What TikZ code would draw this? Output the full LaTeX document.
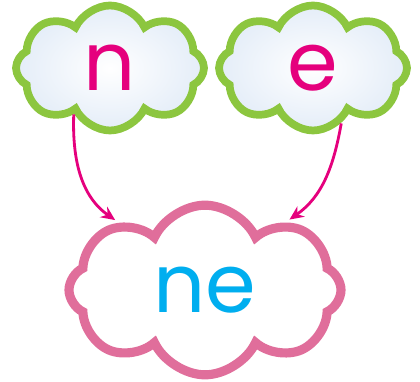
\documentclass[tikz,border=0pt]{standalone}
\usepackage{fontspec}
\setmainfont{Poppins}
\usepackage{xcolor}
\usepackage{tikz}
\usetikzlibrary{shapes.symbols, arrows.meta, positioning, calc}
\definecolor{letterpink}{HTML}{E5007D}
\definecolor{lettercyan}{HTML}{00AEEF}
\definecolor{leafgreen}{HTML}{8CC63F}
\definecolor{rosepink}{HTML}{E06E9B}
\definecolor{skyblue}{HTML}{E4EDF8}
\tikzstyle{smallcloud} = [cloud, cloud puffs=8, cloud puff arc=130, minimum width=4.7cm, minimum height=3.125cm, inner sep=0pt, line width=5.5pt, draw=leafgreen, inner color=white, outer color=skyblue, text=letterpink, font=\fontsize{58}{58}\selectfont]
\tikzstyle{bigcloud} = [cloud, cloud puffs=8, cloud puff arc=130, minimum width=6.8cm, minimum height=4.1cm, inner sep=0pt, line width=6.5pt, draw=rosepink, fill=white, text=lettercyan, font=\fontsize{58}{58}\selectfont]
\tikzstyle{arrow} = [line width=2pt, letterpink, -{Stealth[length=10pt, width=9pt]}]

\begin{document}
\begin{tikzpicture}
\useasboundingbox (0,0) rectangle (10.5,9.55);
\node (n) [smallcloud] at (2.75,7.85) {n};
\node (e) [smallcloud] at (7.825,7.85) {e};
\node (ne) [bigcloud] at (5.125,2.3) {ne};

\draw [arrow, shorten >=3pt] (n.232) to[out=-92, in=145] (ne.142);
\draw [arrow, shorten >=3pt] (e.297) to[out=-100, in=35] (ne.40);
\end{tikzpicture}
\end{document}
